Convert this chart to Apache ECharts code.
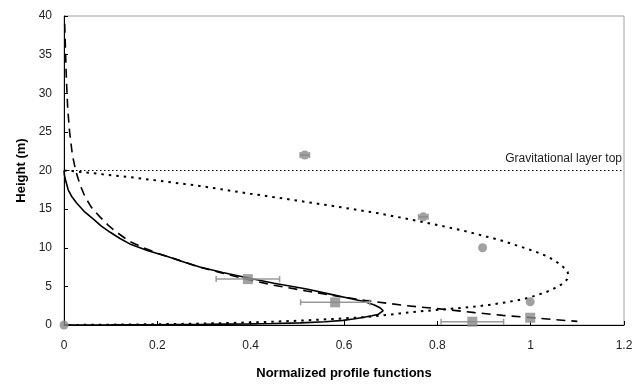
<!DOCTYPE html>
<html>
<head>
<meta charset="utf-8">
<script src="https://cdn.jsdelivr.net/npm/echarts@6/dist/echarts.min.js"></script>
<style>html,body{margin:0;padding:0;background:#fff}#c{width:643px;height:385px}</style>
</head>
<body>
<div id="c"></div>
<script>
// Solid model curve [x, height]
const solidCurve = [[0,20],[0.001,19.4],[0.004,18.6],[0.009,17.5],[0.017,16.6],[0.027,15.8],[0.045,14.6],[0.063,13.7],[0.08,12.8],[0.099,12.0],[0.12,11.2],[0.141,10.5],[0.18,9.6],[0.22,8.9],[0.26,8.1],[0.291,7.5],[0.34,6.8],[0.39,6.15],[0.45,5.4],[0.52,4.65],[0.57,4.0],[0.613,3.44],[0.645,3.0],[0.665,2.6],[0.678,2.2],[0.684,1.85],[0.682,1.6],[0.674,1.4],[0.66,1.2],[0.64,0.98],[0.62,0.78],[0.598,0.6],[0.56,0.42],[0.506,0.28],[0.45,0.19],[0.4,0.14],[0.3,0.08],[0.2,0.04],[0.1,0.015],[0,0]];
// Dashed model curve
const dashedCurve = [[0.0015,39],[0.003,36],[0.005,32],[0.008,28],[0.012,25],[0.018,22],[0.025,20],[0.034,18.2],[0.045,16.6],[0.059,15.2],[0.077,14.0],[0.095,12.9],[0.113,12.0],[0.141,10.8],[0.17,10.0],[0.2,9.3],[0.25,8.3],[0.29,7.5],[0.34,6.7],[0.39,5.95],[0.45,5.15],[0.52,4.4],[0.59,3.7],[0.65,3.15],[0.734,2.5],[0.82,2.0],[0.88,1.6],[0.94,1.25],[1.0,0.95],[1.05,0.7],[1.1,0.47]];
// Dotted model curve
const dottedCurve = [[0,20],[0.04,19.8],[0.077,19.55],[0.14,19.15],[0.2,18.7],[0.291,18.0],[0.35,17.45],[0.399,17.0],[0.49,16.2],[0.577,15.4],[0.67,14.5],[0.756,13.5],[0.85,12.3],[0.934,11.0],[0.975,10.2],[1.006,9.6],[1.035,8.9],[1.055,8.2],[1.07,7.5],[1.079,6.9],[1.081,6.4],[1.078,5.9],[1.07,5.4],[1.056,4.9],[1.035,4.3],[1.013,3.85],[0.985,3.35],[0.949,2.95],[0.91,2.6],[0.877,2.35],[0.82,2.05],[0.77,1.8],[0.72,1.5],[0.684,1.25],[0.65,1.05],[0.613,0.9],[0.55,0.7],[0.5,0.55],[0.427,0.38],[0.35,0.25],[0.25,0.14],[0.15,0.07],[0.07,0.03],[0,0]];
// Layer top line
const layerTop = 20;
const layerLabel = 'Gravitational layer top';
// Measured points (circles)
const circleX = [0.516, 0.77, 0.897, 0.999, 0];
const circleY = [22, 14, 10, 3, 0];
const circleErr = [0.01, 0.01, 0, 0, 0];
// Measured points (squares)
const squareX = [0.394, 0.581, 0.875, 0.999];
const squareY = [5.94, 2.93, 0.43, 0.94];
const squareErr = [0.068, 0.074, 0.067, 0];

const xTicks = {min:0, max:1.2, interval:0.2};
const yTicks = {min:0, max:40, interval:5};

const FONT = '"Liberation Sans", Arial, Helvetica, sans-serif';
const gray = '#8a8a8a';

function errData(xs, ys, es){ return xs.map((x,i)=>[x, ys[i], es[i]]).filter(d=>d[2]>0); }
function errRender(params, api){
  const x = api.value(0), y = api.value(1), e = api.value(2);
  const p1 = api.coord([x-e, y]), p2 = api.coord([x+e, y]);
  const cap = 3;
  const st = {stroke: '#9a9a9a', lineWidth: 1.5};
  return {type:'group', children:[
    {type:'line', shape:{x1:p1[0],y1:p1[1],x2:p2[0],y2:p2[1]}, style:st},
    {type:'line', shape:{x1:p1[0],y1:p1[1]-cap,x2:p1[0],y2:p1[1]+cap}, style:st},
    {type:'line', shape:{x1:p2[0],y1:p2[1]-cap,x2:p2[0],y2:p2[1]+cap}, style:st}
  ]};
}

const chart = echarts.init(document.getElementById('c'), null, {renderer:'canvas'});
chart.setOption({
  animation:false,
  backgroundColor:'#fff',
  textStyle:{fontFamily:FONT},
  grid:{left:64, right:19, top:16, bottom:59, show:true, borderColor:'#a0a0a0', borderWidth:1},
  xAxis:{type:'value', min:xTicks.min, max:xTicks.max, interval:xTicks.interval,
    name:'Normalized profile functions', nameLocation:'middle', nameGap:42,
    nameTextStyle:{fontFamily:FONT, fontSize:13, fontWeight:'bold', color:'#000'},
    axisLine:{show:true, onZero:false, lineStyle:{color:'#000', width:1}},
    axisTick:{show:true, inside:true, length:4, lineStyle:{color:'#000'}},
    axisLabel:{fontFamily:FONT, fontSize:12, color:'#222', margin:15},
    splitLine:{show:false}},
  yAxis:{type:'value', min:yTicks.min, max:yTicks.max, interval:yTicks.interval,
    name:'Height (m)', nameLocation:'middle', nameGap:35, nameRotate:90,
    nameTextStyle:{fontFamily:FONT, fontSize:13, fontWeight:'bold', color:'#000'},
    axisLine:{show:true, onZero:false, lineStyle:{color:'#000', width:1}},
    axisTick:{show:true, inside:true, length:4, lineStyle:{color:'#000'}},
    axisLabel:{fontFamily:FONT, fontSize:12, color:'#222', margin:12},
    splitLine:{show:false}},
  series:[
    {type:'line', data:dottedCurve, showSymbol:false, smooth:false, lineStyle:{color:'#000', width:2, type:[2.5,5]}, z:3,
      markLine:{silent:true, symbol:'none', data:[{yAxis:layerTop}],
        lineStyle:{color:'#000', width:1, type:[1.5,2.5]},
        label:{show:true, position:'insideEndTop', formatter:layerLabel, fontFamily:FONT, fontSize:12, color:'#222', distance:[2,6]}}},
    {type:'line', data:dashedCurve, showSymbol:false, smooth:false, lineStyle:{color:'#000', width:1.6, type:[9,6]}, z:3},
    {type:'line', data:solidCurve, showSymbol:false, smooth:false, lineStyle:{color:'#000', width:1.6}, z:4},
    {type:'custom', renderItem:errRender, data:errData(squareX, squareY, squareErr), z:5},
    {type:'custom', renderItem:errRender, data:errData(circleX, circleY, circleErr), z:5},
    {type:'scatter', data:squareX.map((x,i)=>[x, squareY[i]]), symbol:'rect', symbolSize:10, itemStyle:{color:gray}, z:6},
    {type:'scatter', data:circleX.map((x,i)=>[x, circleY[i]]), symbol:'circle', symbolSize:9, itemStyle:{color:gray}, z:6}
  ]
});
</script>
</body>
</html>
